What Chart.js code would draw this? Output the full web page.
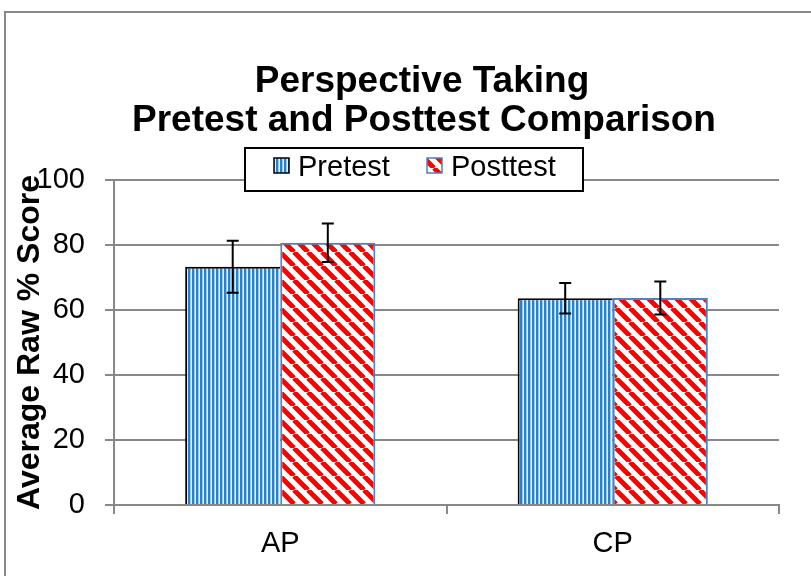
<!DOCTYPE html>
<html>
<head>
<meta charset="utf-8">
<script src="https://cdn.jsdelivr.net/npm/chart.js@4/dist/chart.umd.min.js"></script>
<style>
  html, body { margin: 0; padding: 0; background: #fff; }
</style>
</head>
<body>
<canvas id="c" width="811" height="576"></canvas>
<script>
const categories = ['AP', 'CP'];
const pretest = [73.3, 63.6];
const pretestErr = [8.0, 4.7];
const posttest = [80.7, 63.7];
const posttestErr = [5.9, 5.1];
const yTicks = [0, 20, 40, 60, 80, 100];
const titleLines = ['Perspective Taking', 'Pretest and Posttest Comparison'];
const yTitle = 'Average Raw % Score';

const FONT = '"Liberation Sans", Arial, sans-serif';
Chart.defaults.font.family = FONT;
Chart.defaults.color = '#000';

const canvas = document.getElementById('c');
const ctx = canvas.getContext('2d');

// vertical blue stripes
function stripes() {
  const t = document.createElement('canvas');
  t.width = 4; t.height = 4;
  const g = t.getContext('2d');
  g.fillStyle = '#e4f1fb'; g.fillRect(0, 0, 4, 4);
  g.fillStyle = '#2a80cb'; g.fillRect(0, 0, 2, 4);
  g.fillStyle = '#9ccaee'; g.fillRect(2, 0, 1, 4);
  return ctx.createPattern(t, 'repeat');
}

// red diagonal stripes, top-left to bottom-right
function diagonals() {
  const t = document.createElement('canvas');
  t.width = 14; t.height = 14;
  const g = t.getContext('2d');
  g.fillStyle = '#fff'; g.fillRect(0, 0, 14, 14);
  g.strokeStyle = '#ff0000'; g.lineWidth = 5;
  g.beginPath();
  [-14, 0, 14].forEach(o => { g.moveTo(o, 0); g.lineTo(o + 14, 14); });
  g.stroke();
  return ctx.createPattern(t, 'repeat');
}

const prePattern = stripes();
const postPattern = diagonals();

const errorBars = {
  id: 'errorBars',
  afterDatasetsDraw(chart) {
    const c = chart.ctx, y = chart.scales.y;
    chart.data.datasets.forEach((ds, i) => {
      chart.getDatasetMeta(i).data.forEach((bar, j) => {
        const v = ds.data[j], e = ds.errors[j];
        const top = y.getPixelForValue(v + e), bot = y.getPixelForValue(v - e);
        c.save();
        c.strokeStyle = '#000';
        c.lineWidth = 2;
        c.beginPath();
        c.moveTo(bar.x, top); c.lineTo(bar.x, bot);
        c.moveTo(bar.x - 6, top); c.lineTo(bar.x + 6, top);
        c.moveTo(bar.x - 6, bot); c.lineTo(bar.x + 6, bot);
        c.stroke();
        c.restore();
      });
    });
  }
};

const decor = {
  id: 'decor',
  beforeDraw(chart) {
    const c = chart.ctx;
    c.save();
    c.fillStyle = '#fff';
    c.fillRect(0, 0, chart.width, chart.height);
    c.strokeStyle = '#888';
    c.lineWidth = 2;
    c.beginPath();
    c.moveTo(5, chart.height); c.lineTo(5, 12); c.lineTo(chart.width, 12);
    c.stroke();
    c.restore();
  },
  afterDraw(chart) {
    const c = chart.ctx;
    c.save();
    // title
    c.fillStyle = '#000';
    c.font = 'bold 37px ' + FONT;
    c.textAlign = 'center';
    c.textBaseline = 'alphabetic';
    c.fillText(titleLines[0], 422, 92);
    c.fillText(titleLines[1], 424, 131);
    // legend
    c.fillStyle = '#fff';
    c.fillRect(245, 148, 338, 43);
    c.strokeStyle = '#000';
    c.lineWidth = 2;
    c.strokeRect(245, 148, 338, 43);
    const items = [
      { label: chart.data.datasets[0].label, fill: prePattern, border: '#000', box: 274, text: 298 },
      { label: chart.data.datasets[1].label, fill: postPattern, border: '#4f81bd', box: 427, text: 451 }
    ];
    c.font = '29px ' + FONT;
    c.textAlign = 'left';
    c.textBaseline = 'middle';
    items.forEach(it => {
      c.fillStyle = it.fill;
      c.fillRect(it.box, 158, 15, 15);
      c.strokeStyle = it.border;
      c.lineWidth = 1.5;
      c.strokeRect(it.box, 158, 15, 15);
      c.fillStyle = '#000';
      c.fillText(it.label, it.text, 168);
    });
    c.restore();
  }
};

new Chart(ctx, {
  type: 'bar',
  data: {
    labels: categories,
    datasets: [
      {
        label: 'Pretest',
        data: pretest,
        errors: pretestErr,
        backgroundColor: prePattern,
        borderColor: '#000',
        borderWidth: { top: 2, left: 2, right: 0, bottom: 0 },
        borderSkipped: false
      },
      {
        label: 'Posttest',
        data: posttest,
        errors: posttestErr,
        backgroundColor: postPattern,
        borderColor: '#4f81bd',
        borderWidth: { top: 2, left: 2, right: 2, bottom: 0 },
        borderSkipped: false
      }
    ]
  },
  options: {
    responsive: false,
    animation: false,
    devicePixelRatio: 1,
    layout: { padding: { top: 180, right: 32, bottom: 0, left: 0 } },
    datasets: { bar: { categoryPercentage: 0.572, barPercentage: 1 } },
    plugins: {
      legend: { display: false },
      title: { display: false },
      tooltip: { enabled: false }
    },
    scales: {
      x: {
        afterFit(s) { s.height = 71; },
        grid: { offset: true, drawOnChartArea: false, color: '#888', lineWidth: 2, tickLength: 9 },
        border: { color: '#888', width: 2 },
        ticks: { font: { size: 29 }, color: '#000', padding: 13 }
      },
      y: {
        min: 0,
        max: 100,
        afterFit(s) { s.width = 114; },
        afterBuildTicks(s) { s.ticks = yTicks.map(v => ({ value: v })); },
        grid: { color: '#888', lineWidth: 2, tickLength: 9 },
        border: { color: '#888', width: 2 },
        ticks: { font: { size: 29 }, color: '#000', padding: 20 },
        title: {
          display: true,
          text: yTitle,
          font: { size: 32, weight: 'bold' },
          color: '#000',
          padding: { top: 11, bottom: 0 }
        }
      }
    }
  },
  plugins: [decor, errorBars]
});
</script>
</body>
</html>
